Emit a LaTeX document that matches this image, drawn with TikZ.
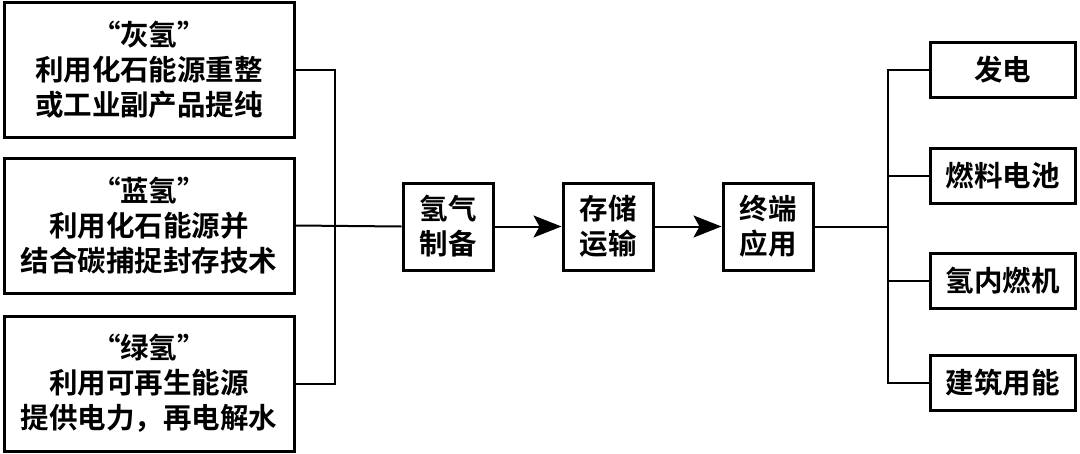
\documentclass[tikz,border=0pt]{standalone}
\usepackage{fontspec}
\setmainfont{Noto Sans CJK SC}[BoldFont={Noto Sans CJK SC Bold}]
\usetikzlibrary{arrows.meta}
\begin{document}
\begin{tikzpicture}[x=1pt,y=-1pt,
  box/.style={draw,line width=3pt,inner sep=0pt,align=center,font=\fontsize{28.5}{35}\selectfont\bfseries},
  ln/.style={line width=2pt},
  arr/.style={line width=2pt,-{Stealth[length=28pt,width=22pt,inset=6pt]}}]
\useasboundingbox (0,0) rectangle (1080,453);
\node[box,minimum width=290pt,minimum height=135pt] (g1) at (149,69.5) {“灰氢”\\利用化石能源重整\\或工业副产品提纯};
\node[box,minimum width=290pt,minimum height=135pt] (g2) at (149,225.5) {“蓝氢”\\利用化石能源并\\结合碳捕捉封存技术};
\node[box,minimum width=290pt,minimum height=135pt] (g3) at (149,383.5) {“绿氢”\\利用可再生能源\\提供电力，再电解水};
\node[box,minimum width=90pt,minimum height=87pt] (a) at (448,226.5) {氢气\\制备};
\node[box,minimum width=90pt,minimum height=87pt] (b) at (608,226.5) {存储\\运输};
\node[box,minimum width=90pt,minimum height=87pt] (c) at (768,226.5) {终端\\应用};
\node[box,minimum width=145pt,minimum height=55pt] (r1) at (1002.5,69.5) {发电};
\node[box,minimum width=145pt,minimum height=55pt] (r2) at (1002.5,175.5) {燃料电池};
\node[box,minimum width=145pt,minimum height=55pt] (r3) at (1002.5,280.5) {氢内燃机};
\node[box,minimum width=145pt,minimum height=55pt] (r4) at (1002.5,382.5) {建筑用能};
\coordinate (lt) at (335,69.5);
\coordinate (lb) at (335,383.5);
\coordinate (rt) at (888,69.5);
\coordinate (rb) at (888,382.5);
\draw[ln] (g1.east) -- (lt) -- (lb) -- (g3.east);
\draw[ln] (g2.east) -- (a.west);
\draw[arr] (a) -- (b);
\draw[arr] (b) -- (c);
\draw[ln] (c.east) -- (c.east -| rt);
\draw[ln] (r1.west) -- (rt) -- (rb) -- (r4.west);
\draw[ln] (r2.west) -- (r2.west -| rt);
\draw[ln] (r3.west) -- (r3.west -| rt);
\end{tikzpicture}
\end{document}
